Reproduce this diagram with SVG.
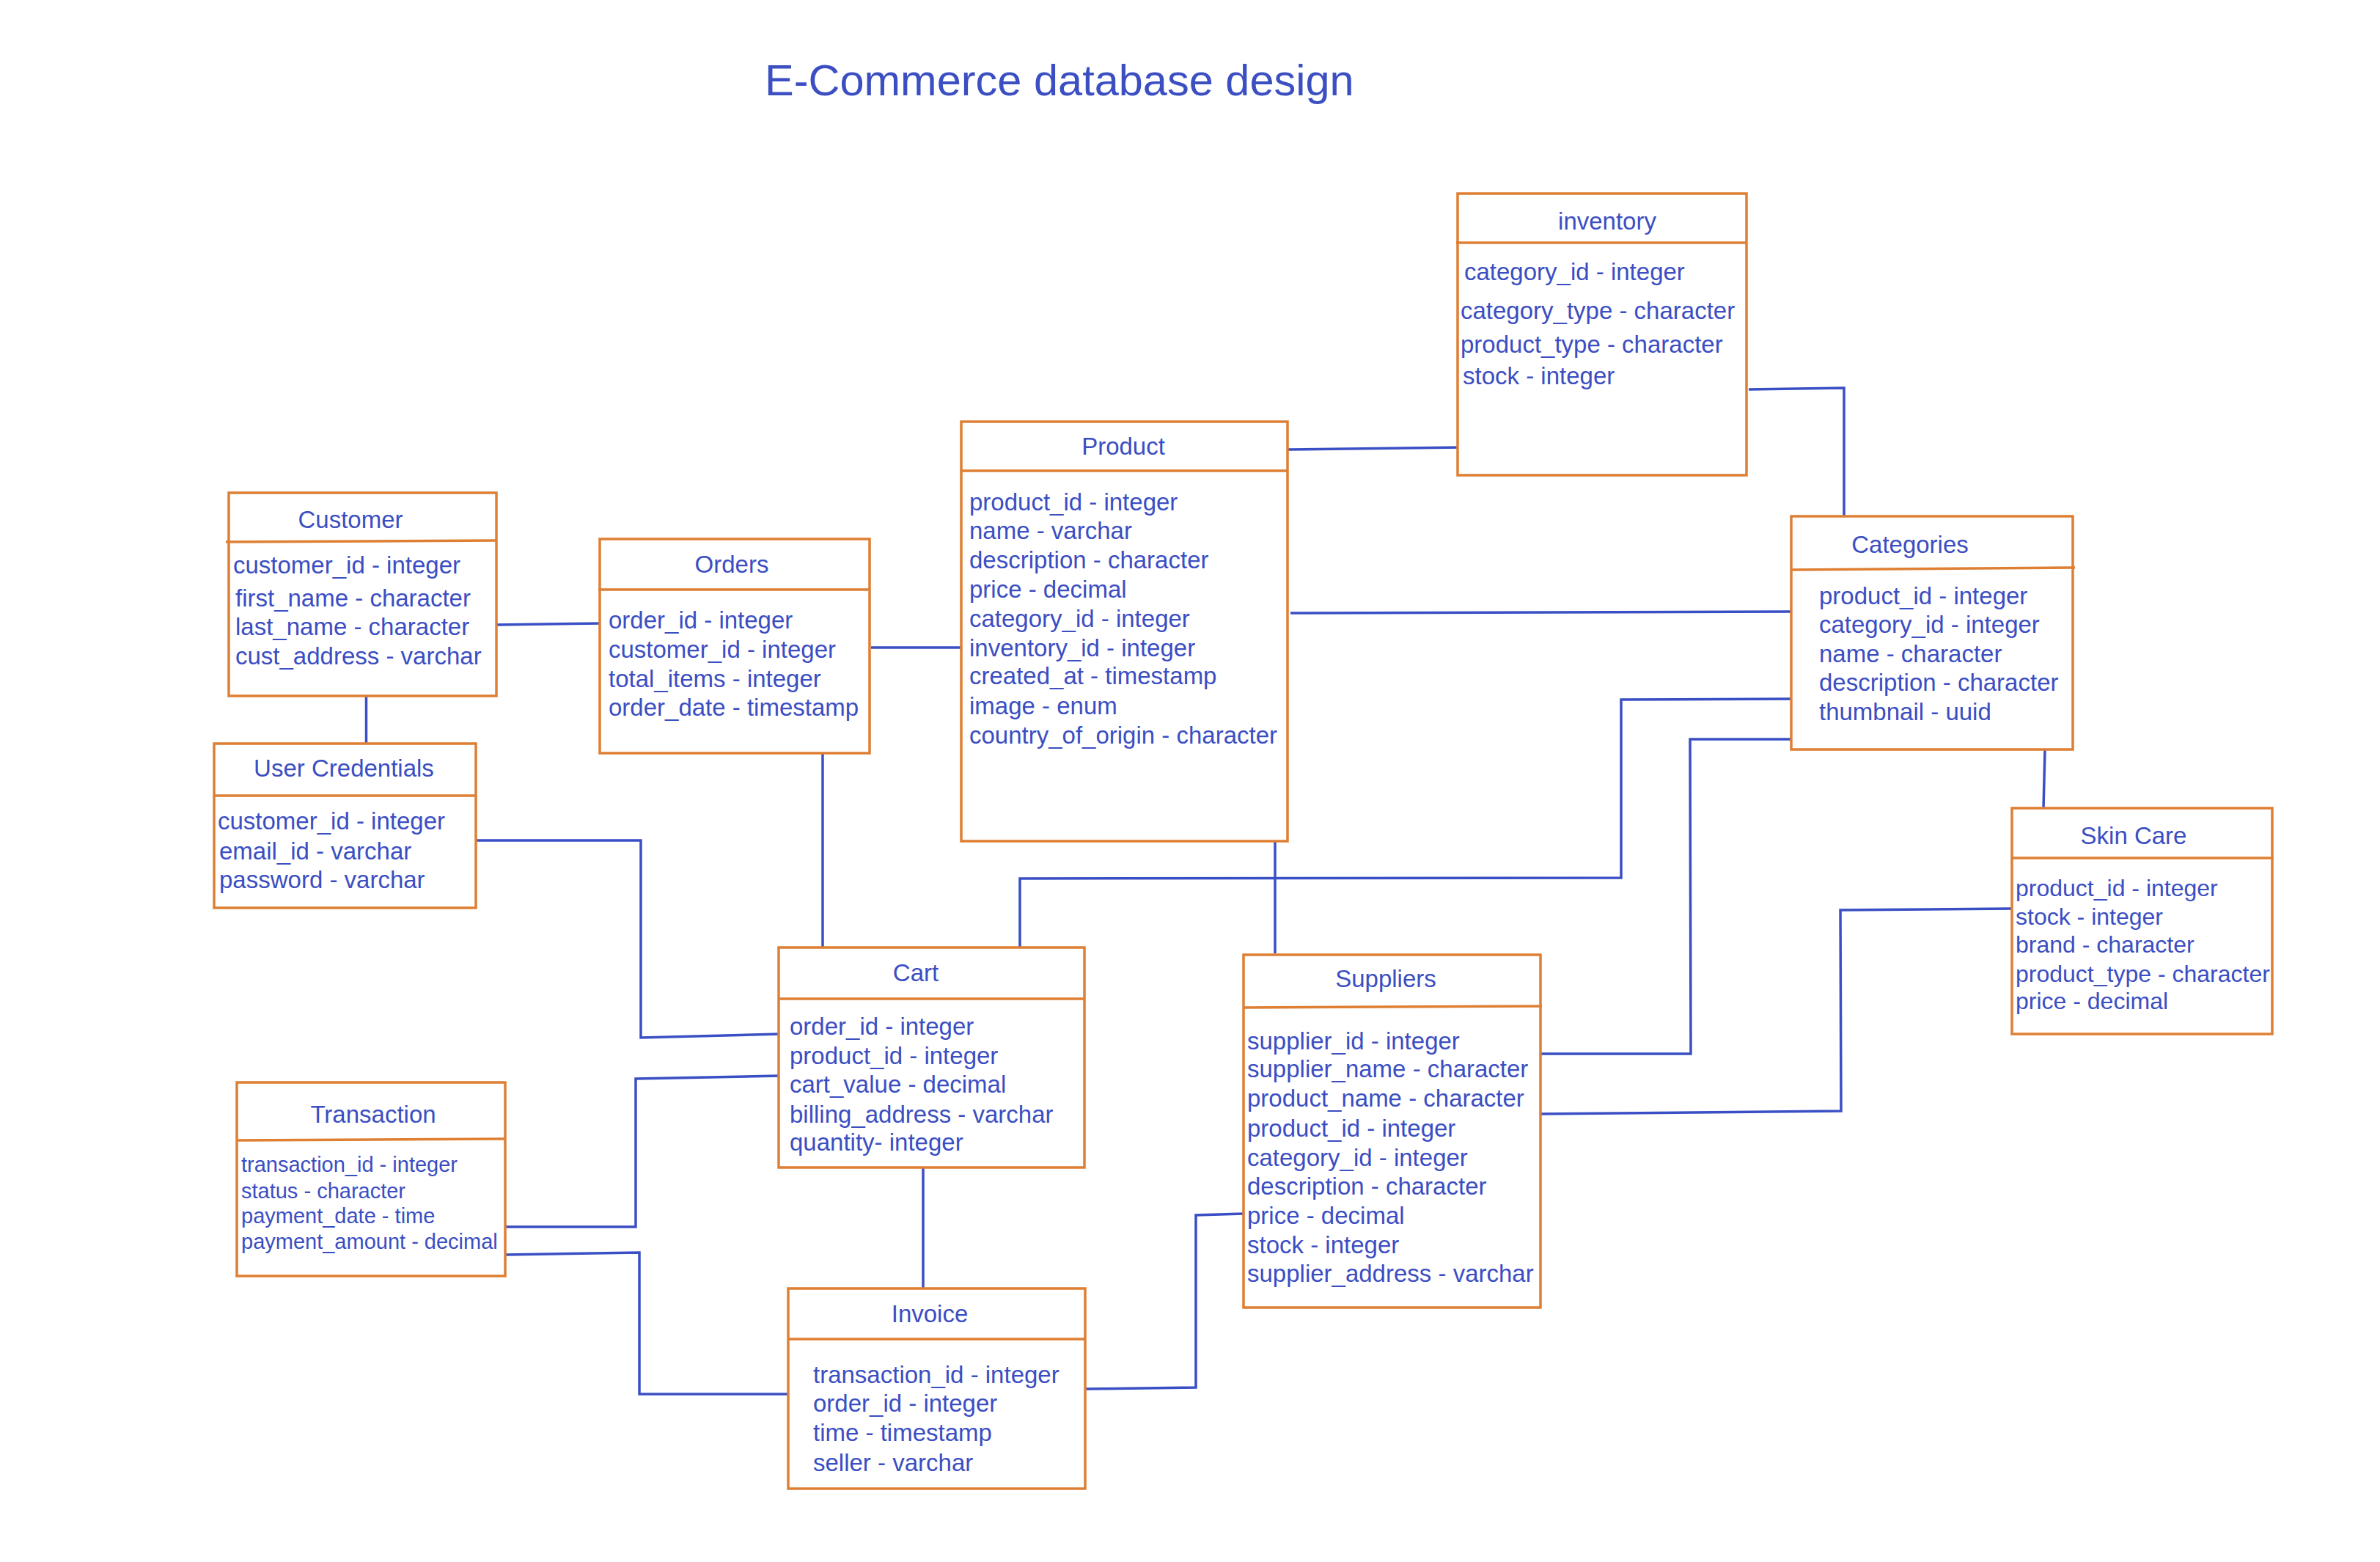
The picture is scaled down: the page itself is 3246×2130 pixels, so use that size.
<svg xmlns="http://www.w3.org/2000/svg" width="3246" height="2130" viewBox="0 0 3246 2130">
<style>
.box{fill:#ffffff;stroke:#DE7F33;stroke-width:3.5}
.hl{stroke:#DE7F33;stroke-width:3.5;fill:none}
.t{font-family:"Liberation Sans",Arial,Helvetica,sans-serif;fill:#3B4EC2}
.ttl{font-size:33px;text-anchor:middle}
.f{font-size:33px}
.fs{font-size:29px}
.fm{font-size:32px}
.c{fill:none;stroke:#3B4FC4;stroke-width:3.5;stroke-linejoin:miter}
</style>
<rect x="0" y="0" width="3246" height="2130" fill="#ffffff"/>
<text class="t" x="1043" y="130" font-size="59.5">E-Commerce database design</text>

<g id="connectors">
<polyline class="c" points="677,852 821,850"/>
<polyline class="c" points="499.5,949 499.5,1014"/>
<polyline class="c" points="1188,883 1314,883"/>
<polyline class="c" points="1757,613 1994,610"/>
<polyline class="c" points="2385,531 2515,529 2515,705"/>
<polyline class="c" points="1760,836 2444,834"/>
<polyline class="c" points="2448,953 2211,954 2211,1197 1391,1198 1391,1291"/>
<polyline class="c" points="2443,1008 2305,1008 2306,1437 2102,1437"/>
<polyline class="c" points="2789,1022 2787,1102"/>
<polyline class="c" points="1739,1147 1739,1300"/>
<polyline class="c" points="2102,1519 2511,1515 2510,1241 2746,1239"/>
<polyline class="c" points="650,1146 874,1146 874,1415 1063,1410"/>
<polyline class="c" points="1122,1024 1122,1292"/>
<polyline class="c" points="1062,1467 867,1471 867,1673 689,1673"/>
<polyline class="c" points="689,1711 872,1708 872,1901 1075,1901"/>
<polyline class="c" points="1259,1592 1259,1757"/>
<polyline class="c" points="1481,1894 1631,1892 1631,1657 1697,1655"/>
</g>

<g id="customer">
<rect class="box" x="312" y="672" width="365" height="277"/>
<line class="hl" x1="308" y1="739" x2="677" y2="737"/>
<text class="t ttl" x="478" y="720">Customer</text>
<text class="t f" x="318" y="782">customer_id - integer</text>
<text class="t f" x="321" y="827">first_name - character</text>
<text class="t f" x="321" y="866">last_name - character</text>
<text class="t f" x="321" y="906">cust_address - varchar</text>
</g>

<g id="orders">
<rect class="box" x="818" y="735" width="368" height="292"/>
<line class="hl" x1="816" y1="804" x2="1186" y2="804"/>
<text class="t ttl" x="998" y="781">Orders</text>
<text class="t f" x="830" y="857">order_id - integer</text>
<text class="t f" x="830" y="897">customer_id - integer</text>
<text class="t f" x="830" y="937">total_items - integer</text>
<text class="t f" x="830" y="976">order_date - timestamp</text>
</g>

<g id="product">
<rect class="box" x="1311" y="575" width="445" height="572"/>
<line class="hl" x1="1311" y1="642" x2="1756" y2="642"/>
<text class="t ttl" x="1532" y="620">Product</text>
<text class="t f" x="1322" y="696">product_id - integer</text>
<text class="t f" x="1322" y="735">name - varchar</text>
<text class="t f" x="1322" y="775">description - character</text>
<text class="t f" x="1322" y="815">price - decimal</text>
<text class="t f" x="1322" y="855">category_id - integer</text>
<text class="t f" x="1322" y="895">inventory_id - integer</text>
<text class="t f" x="1322" y="933">created_at - timestamp</text>
<text class="t f" x="1322" y="974">image - enum</text>
<text class="t f" x="1322" y="1014">country_of_origin - character</text>
</g>

<g id="inventory">
<rect class="box" x="1988" y="264" width="394" height="384"/>
<line class="hl" x1="1986" y1="331" x2="2382" y2="331"/>
<text class="t ttl" x="2192" y="313">inventory</text>
<text class="t f" x="1997" y="382">category_id - integer</text>
<text class="t f" x="1992" y="435">category_type - character</text>
<text class="t f" x="1992" y="481">product_type - character</text>
<text class="t f" x="1995" y="524">stock - integer</text>
</g>

<g id="categories">
<rect class="box" x="2443" y="704" width="384" height="318"/>
<line class="hl" x1="2443" y1="777" x2="2830" y2="774"/>
<text class="t ttl" x="2605" y="754">Categories</text>
<text class="t f" x="2481" y="824">product_id - integer</text>
<text class="t f" x="2481" y="863">category_id - integer</text>
<text class="t f" x="2481" y="903">name - character</text>
<text class="t f" x="2481" y="942">description - character</text>
<text class="t f" x="2481" y="982">thumbnail - uuid</text>
</g>

<g id="user-credentials">
<rect class="box" x="292" y="1014" width="357" height="224"/>
<line class="hl" x1="292" y1="1085" x2="649" y2="1085"/>
<text class="t ttl" x="469" y="1059">User Credentials</text>
<text class="t f" x="297" y="1131">customer_id - integer</text>
<text class="t f" x="299" y="1172">email_id - varchar</text>
<text class="t f" x="299" y="1211">password - varchar</text>
</g>

<g id="cart">
<rect class="box" x="1062" y="1292" width="417" height="300"/>
<line class="hl" x1="1062" y1="1362" x2="1479" y2="1362"/>
<text class="t ttl" x="1249" y="1338">Cart</text>
<text class="t f" x="1077" y="1411">order_id - integer</text>
<text class="t f" x="1077" y="1451">product_id - integer</text>
<text class="t f" x="1077" y="1490">cart_value - decimal</text>
<text class="t f" x="1077" y="1531">billing_address - varchar</text>
<text class="t f" x="1077" y="1569">quantity- integer</text>
</g>

<g id="transaction">
<rect class="box" x="323" y="1476" width="366" height="264"/>
<line class="hl" x1="323" y1="1555" x2="689" y2="1553"/>
<text class="t ttl" x="509" y="1531">Transaction</text>
<text class="t fs" x="329" y="1598">transaction_id - integer</text>
<text class="t fs" x="329" y="1634">status - character</text>
<text class="t fs" x="329" y="1668">payment_date - time</text>
<text class="t fs" x="329" y="1703">payment_amount - decimal</text>
</g>

<g id="invoice">
<rect class="box" x="1075" y="1757" width="405" height="273"/>
<line class="hl" x1="1075" y1="1826" x2="1480" y2="1826"/>
<text class="t ttl" x="1268" y="1803">Invoice</text>
<text class="t f" x="1109" y="1886">transaction_id - integer</text>
<text class="t f" x="1109" y="1925">order_id - integer</text>
<text class="t f" x="1109" y="1965">time - timestamp</text>
<text class="t f" x="1109" y="2006">seller - varchar</text>
</g>

<g id="suppliers">
<rect class="box" x="1696" y="1302" width="405" height="481"/>
<line class="hl" x1="1696" y1="1374" x2="2103" y2="1372"/>
<text class="t ttl" x="1890" y="1346">Suppliers</text>
<text class="t f" x="1701" y="1431">supplier_id - integer</text>
<text class="t f" x="1701" y="1469">supplier_name - character</text>
<text class="t f" x="1701" y="1509">product_name - character</text>
<text class="t f" x="1701" y="1550">product_id - integer</text>
<text class="t f" x="1701" y="1590">category_id - integer</text>
<text class="t f" x="1701" y="1629">description - character</text>
<text class="t f" x="1701" y="1669">price - decimal</text>
<text class="t f" x="1701" y="1709">stock - integer</text>
<text class="t f" x="1701" y="1748">supplier_address - varchar</text>
</g>

<g id="skin-care">
<rect class="box" x="2744" y="1102" width="355" height="308"/>
<line class="hl" x1="2744" y1="1170" x2="3101" y2="1170"/>
<text class="t ttl" x="2910" y="1151">Skin Care</text>
<text class="t fm" x="2749" y="1222">product_id - integer</text>
<text class="t fm" x="2749" y="1261">stock - integer</text>
<text class="t fm" x="2749" y="1299">brand - character</text>
<text class="t fm" x="2749" y="1339">product_type - character</text>
<text class="t fm" x="2749" y="1376">price - decimal</text>
</g>
</svg>
